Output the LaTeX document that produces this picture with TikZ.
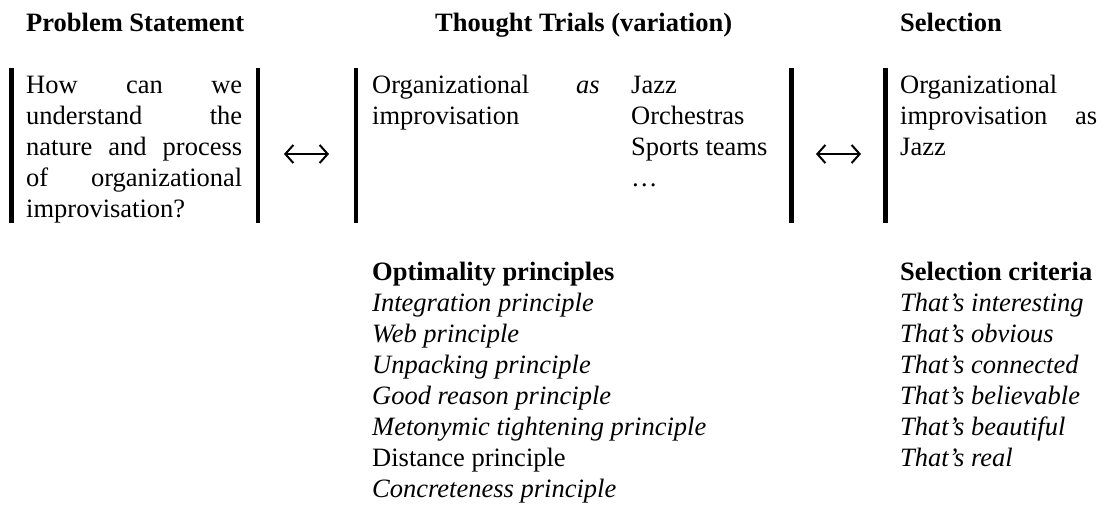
\documentclass[tikz,border=0pt]{standalone}
\usepackage{fontspec}
\setmainfont{Liberation Serif}
\usetikzlibrary{arrows.meta}
\begin{document}
\begin{tikzpicture}[x=1pt,y=-1pt,
  txt/.style={anchor=base west,inner sep=0pt,font=\fontsize{26.5}{31}\selectfont},
  head/.style={txt,font=\fontsize{26.5}{31}\selectfont\bfseries},
  ital/.style={txt,font=\fontsize{26.5}{31}\selectfont\itshape},
  bar/.style={line width=4.5pt},
  dbl/.style={line width=1.8pt,{Straight Barb[length=8pt,width=18pt,line width=2pt]}-{Straight Barb[length=8pt,width=18pt,line width=2pt]}}]
\useasboundingbox (0,0) rectangle (1107,507);
% headings
\node[head] (h1) at (26,31) {Problem Statement};
\node[head] (h2) at (435,31) {Thought Trials (variation)};
\node[head] (h3) at (900,31) {Selection};
% bars
\coordinate (b1t) at (11.5,68); \coordinate (b1b) at (11.5,223);
\coordinate (b2t) at (258,68); \coordinate (b2b) at (258,223);
\coordinate (b3t) at (356,68); \coordinate (b3b) at (356,223);
\coordinate (b4t) at (791.5,68); \coordinate (b4b) at (791.5,223);
\coordinate (b5t) at (885.5,68); \coordinate (b5b) at (885.5,223);
\foreach \b in {b1,b2,b3,b4,b5} \draw[bar] (\b t) -- (\b b);
% arrows
\coordinate (a1l) at (284,154); \coordinate (a1r) at (329,154);
\coordinate (a2l) at (816,154); \coordinate (a2r) at (861,154);
\draw[dbl] (a1l) -- (a1r);
\draw[dbl] (a2l) -- (a2r);
% problem statement
\node[txt] (p1) at (26,93) {\makebox[216pt][s]{How can we}};
\node[txt] (p2) at (26,124) {\makebox[216pt][s]{understand the}};
\node[txt] (p3) at (26,155) {\makebox[216pt][s]{nature and process}};
\node[txt] (p4) at (26,186) {\makebox[216pt][s]{of organizational}};
\node[txt] (p5) at (26,217) {improvisation?};
% thought trials
\node[txt] (t1) at (372,93) {Organizational};
\node[txt] (t2) at (372,124) {improvisation};
\node[ital] (tas) at (576,93) {as};
\node[txt] (j1) at (631,93) {Jazz};
\node[txt] (j2) at (631,124) {Orchestras};
\node[txt] (j3) at (631,155) {Sports teams};
\node[txt] (j4) at (631,186) {\dots};
% selection
\node[txt] (s1) at (900,93) {Organizational};
\node[txt] (s2) at (900,124) {\makebox[197pt][s]{improvisation as}};
\node[txt] (s3) at (900,155) {Jazz};
% optimality principles
\node[head] (o0) at (372,280) {Optimality principles};
\node[ital] (o1) at (372,311) {Integration principle};
\node[ital] (o2) at (372,342) {Web principle};
\node[ital] (o3) at (372,373) {Unpacking principle};
\node[ital] (o4) at (372,404) {Good reason principle};
\node[ital] (o5) at (372,435) {Metonymic tightening principle};
\node[txt] (o6) at (372,466) {Distance principle};
\node[ital] (o7) at (372,497) {Concreteness principle};
% selection criteria
\node[head] (c0) at (900,280) {Selection criteria};
\node[ital] (c1) at (900,311) {That’s interesting};
\node[ital] (c2) at (900,342) {That’s obvious};
\node[ital] (c3) at (900,373) {That’s connected};
\node[ital] (c4) at (900,404) {That’s believable};
\node[ital] (c5) at (900,435) {That’s beautiful};
\node[ital] (c6) at (900,466) {That’s real};
\end{tikzpicture}
\end{document}
